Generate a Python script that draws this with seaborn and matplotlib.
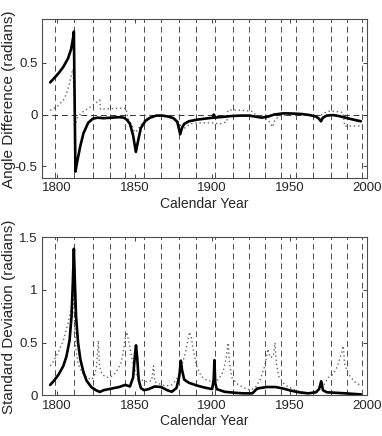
import numpy as np
import pandas as pd
import seaborn as sns
import matplotlib
matplotlib.use("Agg")
import matplotlib.pyplot as plt

# solar cycle minima (vertical dashed markers)
cycle_minima = [1798.3, 1810.6, 1823.3, 1833.9, 1843.5, 1856.0, 1867.2, 1878.9,
                1889.6, 1901.7, 1913.6, 1923.6, 1933.8, 1944.2, 1954.3, 1964.9,
                1976.5, 1986.8, 1996.4]

# top panel: angle difference, solid series
diff_solid_year = [1795.5, 1798, 1801, 1804, 1807, 1809, 1810.3, 1810.8, 1811.8, 1813,
                   1815, 1817, 1820, 1823, 1826, 1830, 1835, 1840, 1843, 1845, 1847,
                   1849, 1850.8, 1852, 1854, 1857, 1860, 1864, 1868, 1872, 1875, 1877.5,
                   1879.4, 1880.5, 1882, 1885, 1890, 1895, 1900.8, 1901, 1901.2, 1905,
                   1912, 1918, 1924, 1928, 1932, 1936, 1940, 1946, 1952, 1958, 1963,
                   1967, 1969, 1970.2, 1971.5, 1974, 1978, 1982, 1986, 1990, 1996]
diff_solid_val = [0.31, 0.35, 0.40, 0.46, 0.54, 0.63, 0.74, 0.80, -0.55, -0.45,
                  -0.30, -0.18, -0.08, -0.04, -0.03, -0.035, -0.03, -0.025, -0.03, -0.05, -0.09,
                  -0.20, -0.36, -0.27, -0.13, -0.06, -0.03, -0.01, -0.01, -0.02, -0.035, -0.07,
                  -0.19, -0.13, -0.09, -0.065, -0.05, -0.04, -0.03, 0.0, -0.03, -0.025,
                  -0.015, -0.01, -0.01, -0.02, -0.03, -0.02, 0.0, 0.012, 0.01, 0.005, -0.005,
                  -0.02, -0.04, -0.065, -0.03, -0.01, -0.005, -0.015, -0.03, -0.045, -0.065]

# top panel: angle difference, dotted series
diff_dot_year = [1795.5, 1798, 1801, 1804, 1806, 1808, 1809.5, 1810.2, 1811.6, 1813,
                 1816, 1820, 1824, 1827.5, 1828, 1832, 1838, 1844.5, 1845.5, 1848,
                 1850, 1852, 1854, 1857, 1860, 1865, 1870, 1875, 1879, 1881, 1883,
                 1886, 1890, 1900, 1905, 1909.5, 1910.2, 1914, 1920, 1926, 1928,
                 1932, 1936, 1939, 1940.5, 1944, 1950, 1958, 1965, 1970, 1973, 1976,
                 1980, 1984.5, 1985.5, 1990, 1996]
diff_dot_val = [0.04, 0.06, 0.09, 0.14, 0.20, 0.30, 0.40, 0.44, -0.10, -0.03,
                0.02, 0.06, 0.10, 0.14, 0.05, 0.055, 0.06, 0.06, -0.03, -0.10,
                -0.17, -0.15, -0.10, -0.05, -0.02, -0.01, -0.015, -0.03, -0.08, -0.15, -0.12,
                -0.09, -0.08, -0.08, -0.09, -0.07, 0.04, 0.045, 0.04, 0.03, 0.0,
                -0.02, -0.05, -0.12, -0.05, -0.01, 0.0, 0.0, -0.005, -0.01, 0.02, 0.035,
                0.03, 0.02, -0.11, -0.11, -0.11]

# bottom panel: standard deviation, solid series
std_solid_year = [1795.5, 1798, 1801, 1804, 1806, 1808, 1809.3, 1810.2, 1810.8, 1811.4,
                  1812.2, 1813.5, 1815, 1817, 1819, 1822, 1825, 1827.5, 1830, 1835,
                  1840, 1844, 1847, 1849, 1850.3, 1850.9, 1851.6, 1852.6, 1854, 1856,
                  1859, 1863, 1867, 1871, 1874, 1877, 1878.8, 1879.8, 1880.6, 1882,
                  1885, 1890, 1895, 1900, 1901, 1901.5, 1902, 1903, 1908, 1915, 1920,
                  1926, 1929, 1935, 1941, 1946, 1951, 1956, 1962, 1967, 1969, 1970.4,
                  1971.5, 1974, 1980, 1986, 1996]
std_solid_val = [0.10, 0.14, 0.20, 0.28, 0.37, 0.52, 0.75, 1.10, 1.39, 1.10,
                 0.75, 0.50, 0.34, 0.22, 0.14, 0.08, 0.05, 0.033, 0.05, 0.065,
                 0.08, 0.10, 0.085, 0.17, 0.40, 0.475, 0.37, 0.15, 0.07, 0.05,
                 0.06, 0.085, 0.08, 0.05, 0.035, 0.07, 0.18, 0.33, 0.24, 0.15,
                 0.12, 0.095, 0.075, 0.06, 0.15, 0.335, 0.12, 0.06, 0.035, 0.025, 0.02,
                 0.02, 0.065, 0.08, 0.08, 0.065, 0.045, 0.03, 0.02, 0.03, 0.06, 0.135,
                 0.05, 0.03, 0.025, 0.02, 0.01]

# bottom panel: standard deviation, dotted series
std_dot_year = [1795.5, 1798, 1801, 1804, 1807, 1809, 1810.5, 1811.2, 1812, 1813.5,
                1816, 1819, 1822, 1824, 1825.5, 1826.6, 1827.3, 1829, 1832, 1835,
                1838, 1841, 1842.5, 1844, 1845, 1847, 1849, 1851, 1854, 1858, 1861,
                1862.2, 1863, 1866, 1870, 1874, 1877, 1880, 1883, 1885.3, 1886.3,
                1888, 1890, 1893, 1897, 1901, 1904, 1907, 1909, 1910.4, 1911.2, 1913,
                1917, 1921, 1925, 1928, 1931, 1934, 1936, 1937.5, 1939.5, 1940.6,
                1941.5, 1943, 1947, 1952, 1958, 1964, 1968, 1972, 1975, 1978, 1981,
                1983, 1984.6, 1985.5, 1988, 1992, 1996]
std_dot_val = [0.28, 0.33, 0.42, 0.52, 0.68, 0.82, 0.95, 0.70, 0.45, 0.30,
               0.22, 0.17, 0.15, 0.18, 0.28, 0.52, 0.28, 0.20, 0.17, 0.18,
               0.22, 0.30, 0.40, 0.55, 0.60, 0.45, 0.30, 0.20, 0.15, 0.13, 0.14,
               0.28, 0.13, 0.11, 0.09, 0.10, 0.15, 0.26, 0.42, 0.60, 0.57,
               0.42, 0.28, 0.18, 0.14, 0.13, 0.15, 0.22, 0.35, 0.50, 0.30, 0.16,
               0.10, 0.07, 0.05, 0.08, 0.15, 0.28, 0.44, 0.36, 0.37, 0.50,
               0.30, 0.18, 0.10, 0.06, 0.03, 0.02, 0.05, 0.10, 0.17, 0.20, 0.28,
               0.38, 0.47, 0.30, 0.20, 0.13, 0.09]

sns.set_style("ticks")
plt.rcParams["font.family"] = ["Liberation Sans Narrow", "Liberation Sans", "DejaVu Sans"]
plt.rcParams["axes.unicode_minus"] = False

fig = plt.figure(figsize=(3.82, 4.36), dpi=100)
ax_top = fig.add_axes([0.109, 0.591, 0.852, 0.365])
ax_bot = fig.add_axes([0.109, 0.093, 0.852, 0.363])

panels = [
    (ax_top, diff_solid_year, diff_solid_val, diff_dot_year, diff_dot_val,
     "Angle Difference (radians)", (-0.615, 0.92), [-0.5, 0, 0.5], ["-0.5", "0", "0.5"]),
    (ax_bot, std_solid_year, std_solid_val, std_dot_year, std_dot_val,
     "Standard Deviation (radians)", (0, 1.5), [0, 0.5, 1, 1.5], ["0", "0.5", "1", "1.5"]),
]

for ax, sy, sv, dy, dv, ylabel, ylim, yt, ytl in panels:
    for yr in cycle_minima:
        ax.axvline(yr, color="0.3", lw=0.7, ls=(0, (6, 4)), zorder=1)
    if ylim[0] < 0:
        ax.axhline(0, color="0.2", lw=0.7, ls=(0, (6, 4)), zorder=1)
    sns.lineplot(x=dy, y=dv, ax=ax, color="0.4", lw=1.0, ls=(0, (1, 2)), zorder=2)
    sns.lineplot(x=sy, y=sv, ax=ax, color="black", lw=1.9, zorder=3)
    ax.set_xlim(1790, 2000)
    ax.set_ylim(*ylim)
    ax.set_xticks([1800, 1850, 1900, 1950, 2000])
    ax.set_xticklabels(["1800", "1850", "1900", "1950", "2000"], fontsize=9.5)
    ax.set_yticks(yt)
    ax.set_yticklabels(ytl, fontsize=9.5)
    ax.tick_params(direction="in", top=True, right=True, length=3, width=0.6, pad=3)
    ax.set_xlabel("Calendar Year", fontsize=10, labelpad=2)
    ax.set_ylabel(ylabel, fontsize=11, family=["Liberation Sans", "DejaVu Sans"])
    ax.yaxis.set_label_coords(-0.078, 0.5)
    for sp in ax.spines.values():
        sp.set_linewidth(0.8)
        sp.set_color("0.3")

fig.savefig("out.png", dpi=100)
